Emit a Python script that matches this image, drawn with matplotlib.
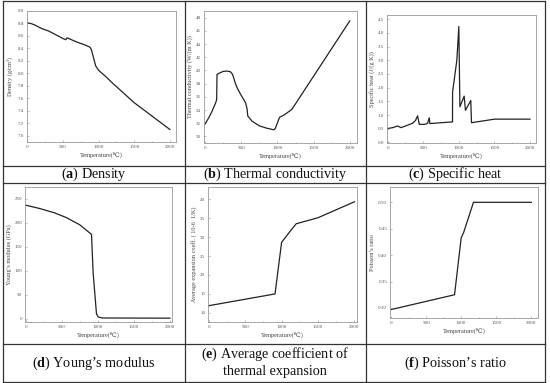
import matplotlib
matplotlib.use("Agg")
import matplotlib.pyplot as plt
from matplotlib.lines import Line2D
from matplotlib.ticker import MultipleLocator

plt.rcParams['font.family'] = ['Liberation Serif', 'DejaVu Serif']
plt.rcParams['mathtext.fontset'] = 'custom'
plt.rcParams['mathtext.bf'] = 'Liberation Serif:bold'
plt.rcParams['mathtext.rm'] = 'Liberation Serif'

# ---- data ----
dens_T = [0, 50, 100, 200, 300, 400, 500, 540, 560, 600, 700, 800, 880, 900, 930, 960, 1000, 1050, 1100, 1200, 1500, 2000]
dens_v = [8.81, 8.80, 8.78, 8.72, 8.68, 8.62, 8.56, 8.54, 8.57, 8.55, 8.50, 8.46, 8.42, 8.38, 8.25, 8.12, 8.05, 8.00, 7.95, 7.84, 7.53, 7.10]

cond_T = [0, 50, 100, 150, 160, 165, 200, 250, 300, 350, 380, 420, 450, 500, 560, 580, 590, 650, 750, 850, 950, 970, 1030, 1100, 1200, 2000]
cond_v = [31.9, 32.8, 33.9, 35.2, 35.6, 39.4, 39.6, 39.85, 39.9, 39.8, 39.4, 38.0, 37.2, 36.2, 35.1, 34.2, 33.1, 32.3, 31.6, 31.25, 31.0, 31.2, 32.9, 33.3, 34.1, 47.5]

cp_T = [0, 70, 140, 187, 250, 350, 390, 420, 444, 520, 561, 584, 593, 750, 911, 912, 972, 1000, 1015, 1075, 1093, 1168, 1178, 1500, 2000]
cp_v = [0.51, 0.54, 0.60, 0.54, 0.60, 0.70, 0.80, 0.97, 0.66, 0.66, 0.70, 0.90, 0.69, 0.72, 0.75, 1.84, 3.0, 4.23, 1.30, 1.69, 1.17, 1.53, 0.72, 0.85, 0.85]

ym_T = [0, 195, 400, 565, 750, 912, 935, 981, 1005, 1060, 2000]
ym_v = [237, 230, 221, 211, 196, 176, 95, 10, 3.5, 1.4, 1.0]

ae_T = [0, 910, 1000, 1100, 1200, 1500, 2000]
ae_v = [11.9, 15.0, 28.6, 31.1, 33.5, 35.1, 39.3]

pr_T = [0, 905, 1000, 1035, 1175, 2000]
pr_v = [0.297, 0.325, 0.433, 0.443, 0.500, 0.500]

ylabels = ["Density (g/cm$^3$)", "Thermal conductivity (W/(m K))", "Specific heat (J/(g K))",
           "Young\u2019s modulus (GPa)", "Average expansion coeff. ( 10-6  1/K)", "Poisson\u2019s ratio"]
captions = [("a", "Density"), ("b", "Thermal conductivity"), ("c", "Specific heat"),
            ("d", "Young\u2019s modulus"), ("e", "Average coefficient of"), ("f", "Poisson\u2019s ratio")]
xlabel = "Temperature(\u2103)"

W, H = 550, 383
fig = plt.figure(figsize=(5.5, 3.83), dpi=100)

def box(l, r, t, b):
    return [l / W, 1 - b / H, (r - l) / W, (b - t) / H]

panels = [
    (dens_T, dens_v, box(27, 176, 11, 142), (-2, 2085), (6.9, 9.0), 0.2, "%.1f"),
    (cond_T, cond_v, box(204, 357, 11, 143), (-15, 2100), (29, 49), 2, "%d"),
    (cp_T, cp_v, box(387, 536, 15, 143), (-10, 2085), (-0.02, 4.65), 0.5, "%.1f"),
    (ym_T, ym_v, box(25, 172, 187, 322), (-10, 2028), (-7, 275), 50, "%d"),
    (ae_T, ae_v, box(208, 357, 187, 322), (-10, 2035), (7.6, 43.2), 5, "%d"),
    (pr_T, pr_v, box(390, 538, 187, 318), (-15, 2095), (0.281, 0.529), 0.05, "%.2f"),
]

for i, (T, v, pos, xl, yl, ystep, fmt) in enumerate(panels):
    ax = fig.add_axes(pos)
    ax.plot(T, v, color='#222222', lw=0.9)
    ax.set_xlim(*xl)
    ax.set_ylim(*yl)
    ax.xaxis.set_major_locator(MultipleLocator(500))
    ax.xaxis.set_minor_locator(MultipleLocator(250))
    ax.yaxis.set_major_locator(MultipleLocator(ystep))
    ax.yaxis.set_major_formatter(plt.FormatStrFormatter(fmt))
    for s in ax.spines.values():
        s.set_color('#999999')
        s.set_linewidth(0.6)
    ax.tick_params(which='both', direction='in', labelsize=3.6, colors='#888888',
                   labelcolor='#555555', length=1.5, width=0.4, pad=2)
    ax.tick_params(which='minor', length=1)
    ax.set_xlabel(xlabel, fontsize=4.5, color='#444444', labelpad=2)
    ax.set_ylabel(ylabels[i], fontsize=4.5, color='#444444', labelpad=2)

# captions
cap_y = [174.5, 174.5, 174.5, 363, 363, 363]
cap_x = [93.5, 275, 455.5, 93.5, 275, 455.5]
fs = 10.2
for i, (letter, txt) in enumerate(captions):
    s = "(" + r"$\mathbf{" + letter + "}$" + ") " + txt
    if letter == "e":
        fig.text(cap_x[i] / W, 1 - 354 / H, s, ha='center', va='center', fontsize=fs, color='#111111')
        fig.text(cap_x[i] / W, 1 - 372 / H, "thermal expansion", ha='center', va='center', fontsize=fs, color='#111111')
    else:
        fig.text(cap_x[i] / W, 1 - cap_y[i] / H, s, ha='center', va='center', fontsize=fs, color='#111111')

# table grid
lc = '#333333'
xs = [3, 184.5, 366, 545]
ys = [1, 166, 183, 344, 382]
for x in xs:
    fig.add_artist(Line2D([x / W, x / W], [1 - 1 / H, 1 - 382 / H], color=lc, lw=0.9))
for y in ys:
    fig.add_artist(Line2D([3 / W, 545 / W], [1 - y / H, 1 - y / H], color=lc, lw=0.9))

fig.savefig("out.png", dpi=100)
